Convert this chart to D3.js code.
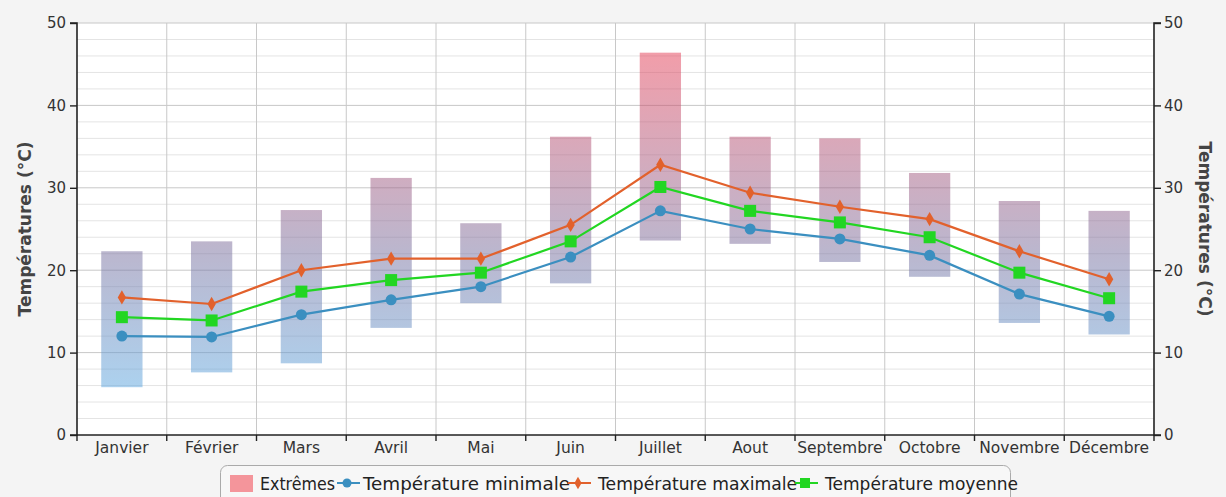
<!DOCTYPE html>
<html><head><meta charset="utf-8">
<script src="https://cdn.jsdelivr.net/npm/d3@7"></script>
<style>
html,body{margin:0;padding:0;background:#f4f4f4;}
svg{display:block;font-family:"DejaVu Sans",Verdana,sans-serif;}
</style></head>
<body>
<svg id="c" width="1226" height="497"></svg>
<script>
const months = ["Janvier","Février","Mars","Avril","Mai","Juin","Juillet","Aout","Septembre","Octobre","Novembre","Décembre"];
const extremeLow  = [5.8, 7.6, 8.7, 13.0, 16.0, 18.4, 23.6, 23.2, 21.0, 19.2, 13.6, 12.2];
const extremeHigh = [22.3, 23.5, 27.3, 31.2, 25.7, 36.2, 46.4, 36.2, 36.0, 31.8, 28.4, 27.2];
const tMin  = [12.0, 11.9, 14.6, 16.4, 18.0, 21.6, 27.2, 25.0, 23.8, 21.8, 17.1, 14.4];
const tMax  = [16.7, 15.9, 20.0, 21.4, 21.4, 25.5, 32.8, 29.4, 27.7, 26.2, 22.3, 18.9];
const tMoy  = [14.3, 13.9, 17.4, 18.8, 19.7, 23.5, 30.1, 27.2, 25.8, 24.0, 19.7, 16.6];
const yTicks = [0, 10, 20, 30, 40, 50];
const legendLabels = ["Extrêmes", "Température minimale", "Température maximale", "Température moyenne"];

const svg = d3.select("#c");
const L = 77, R = 1154, T = 23, B = 435;
const x = d3.scaleBand().domain(months).range([L, R]);
const y = d3.scaleLinear().domain([0, 50]).range([B, T]);

const cBlue = "#3b8fc0", cOrange = "#e2612c", cGreen = "#22d622";

svg.append("rect").attr("x", L).attr("y", T).attr("width", R - L).attr("height", B - T).attr("fill", "#fff");

const defs = svg.append("defs");
const g = defs.append("linearGradient").attr("id", "grad").attr("gradientUnits", "userSpaceOnUse")
  .attr("x1", 0).attr("x2", 0).attr("y1", y(0)).attr("y2", y(50));
g.append("stop").attr("offset", "0").attr("stop-color", "rgb(85,185,245)");
g.append("stop").attr("offset", "0.45").attr("stop-color", "rgb(125,115,160)");
g.append("stop").attr("offset", "1").attr("stop-color", "rgb(245,60,80)");

const minor = d3.range(2, 50, 2).filter(v => v % 10 !== 0);
svg.append("g").selectAll("line").data(minor).join("line")
  .attr("x1", L).attr("x2", R).attr("y1", d => y(d)).attr("y2", d => y(d))
  .attr("stroke", "#e4e4e4").attr("stroke-width", 1);
svg.append("g").selectAll("line").data(yTicks.filter(v => v > 0)).join("line")
  .attr("x1", L).attr("x2", R).attr("y1", d => y(d)).attr("y2", d => y(d))
  .attr("stroke", "#c8c8c8").attr("stroke-width", 1);
svg.append("g").selectAll("line").data(months.slice(1)).join("line")
  .attr("x1", d => x(d)).attr("x2", d => x(d)).attr("y1", T).attr("y2", B)
  .attr("stroke", "#c8c8c8").attr("stroke-width", 1);

const bw = x.bandwidth() * 0.46;
svg.append("g").selectAll("rect").data(months).join("rect")
  .attr("x", d => x(d) + x.bandwidth() / 2 - bw / 2)
  .attr("width", bw)
  .attr("y", (d, i) => y(extremeHigh[i]))
  .attr("height", (d, i) => y(extremeLow[i]) - y(extremeHigh[i]))
  .attr("fill", "url(#grad)").attr("fill-opacity", 0.52);

const axL = d3.axisLeft(y).tickValues(yTicks).tickSize(7).tickPadding(4);
const axR = d3.axisRight(y).tickValues(yTicks).tickSize(7).tickPadding(3);
function styleAxis(sel) {
  sel.select(".domain").attr("stroke", "#222").attr("stroke-width", 1.6);
  sel.selectAll(".tick line").attr("stroke", "#222").attr("stroke-width", 1.4);
  sel.selectAll(".tick text").attr("fill", "#333").style("font-size", "15px").style("font-family", "DejaVu Sans, Verdana, sans-serif");
}
svg.append("g").attr("transform", `translate(${L},0)`).call(axL).call(styleAxis).select(".domain").attr("d", `M-7,${T}H0V${B}H-7`);
svg.append("g").attr("transform", `translate(${R},0)`).call(axR).call(styleAxis).select(".domain").attr("d", `M7,${T}H0V${B}H7`);

const axX = svg.append("g").attr("transform", `translate(0,${B})`);
axX.append("line").attr("x1", L).attr("x2", R).attr("y1", 0).attr("y2", 0).attr("stroke", "#222").attr("stroke-width", 1.6);
axX.selectAll("line.tk").data(months.concat(["end"])).join("line").attr("class", "tk")
  .attr("x1", (d, i) => i < 12 ? x(d) : R).attr("x2", (d, i) => i < 12 ? x(d) : R)
  .attr("y1", 0).attr("y2", 6).attr("stroke", "#222").attr("stroke-width", 1.4);
axX.selectAll("text").data(months).join("text")
  .attr("x", d => x(d) + x.bandwidth() / 2).attr("y", 18)
  .attr("text-anchor", "middle").attr("fill", "#333").style("font-size", "15.5px").text(d => d);

svg.append("text").attr("transform", `translate(31,${(T + B) / 2}) rotate(-90)`)
  .attr("text-anchor", "middle").attr("fill", "#444").style("font-size", "17px").style("font-weight", "bold")
  .text("Températures (°C)");
svg.append("text").attr("transform", `translate(1199,${(T + B) / 2}) rotate(90)`)
  .attr("text-anchor", "middle").attr("fill", "#444").style("font-size", "17px").style("font-weight", "bold")
  .text("Températures (°C)");

const cx = i => x(months[i]) + x.bandwidth() / 2;
const line = d3.line().x((d, i) => cx(i)).y(d => y(d));
function series(data, color, shape) {
  svg.append("path").datum(data).attr("d", line).attr("fill", "none").attr("stroke", color).attr("stroke-width", 2.2);
  const gg = svg.append("g");
  if (shape === "circle") {
    gg.selectAll("circle").data(data).join("circle").attr("cx", (d, i) => cx(i)).attr("cy", d => y(d)).attr("r", 5.5).attr("fill", color);
  } else if (shape === "square") {
    gg.selectAll("rect").data(data).join("rect").attr("x", (d, i) => cx(i) - 6).attr("y", d => y(d) - 6).attr("width", 12).attr("height", 12).attr("fill", color);
  } else {
    gg.selectAll("path").data(data).join("path")
      .attr("d", d3.symbol().type(d3.symbolDiamond).size(60))
      .attr("transform", (d, i) => `translate(${cx(i)},${y(d)})`).attr("fill", color);
  }
}
series(tMax, cOrange, "diamond");
series(tMoy, cGreen, "square");
series(tMin, cBlue, "circle");

// legend
const lg = svg.append("g");
lg.append("rect").attr("x", 220.5).attr("y", 465.5).attr("width", 790).attr("height", 40).attr("rx", 7)
  .attr("fill", "#f7f7f7").attr("stroke", "#aaa").attr("stroke-width", 1);
lg.append("rect").attr("x", 230).attr("y", 475).attr("width", 23).attr("height", 17).attr("fill", "#f4959b");
const ly = 483, fs = "17.5px";
const textX = [260, 363, 598, 825];
const textW = [75, 207, 199, 193];
const items = [
  null,
  {x: 337, c: cBlue, s: "circle"},
  {x: 568, c: cOrange, s: "diamond"},
  {x: 795, c: cGreen, s: "square"}
];
legendLabels.forEach((t, i) => {
  const it = items[i];
  if (it) {
    lg.append("line").attr("x1", it.x).attr("x2", it.x + 23).attr("y1", ly).attr("y2", ly).attr("stroke", it.c).attr("stroke-width", 2);
    const mx = it.x + 10;
    if (it.s === "circle") lg.append("circle").attr("cx", mx).attr("cy", ly).attr("r", 4.5).attr("fill", it.c);
    else if (it.s === "square") lg.append("rect").attr("x", mx - 5).attr("y", ly - 5).attr("width", 10).attr("height", 10).attr("fill", it.c);
    else lg.append("path").attr("d", d3.symbol().type(d3.symbolDiamond).size(45)).attr("transform", `translate(${mx},${ly})`).attr("fill", it.c);
  }
  lg.append("text").attr("x", textX[i]).attr("y", 490).style("font-size", fs).attr("fill", "#222")
    .attr("textLength", textW[i]).attr("lengthAdjust", "spacingAndGlyphs").text(t);
});
</script>
</body></html>
